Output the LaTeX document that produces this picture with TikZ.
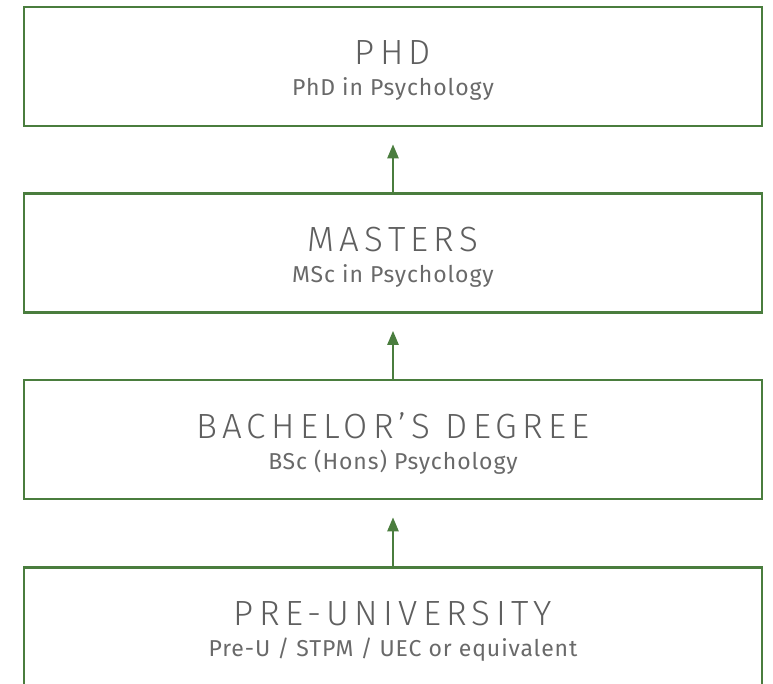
\documentclass[tikz,border=0pt]{standalone}
\usepackage{fontspec}
\setmainfont{Fira Sans}
\newfontfamily\titlefont[LetterSpace=15, UprightFont=* Light]{Fira Sans}
\newfontfamily\subfont[LetterSpace=4]{Fira Sans}
\usetikzlibrary{arrows.meta}
\definecolor{boxgreen}{RGB}{74,125,62}
\definecolor{txtgray}{RGB}{95,95,95}
\definecolor{subgray}{RGB}{105,105,105}
\tikzset{
  stagebox/.style={draw=boxgreen, line width=2.6pt, minimum width=738pt, minimum height=119pt, inner sep=0pt},
  titletext/.style={anchor=base, text=txtgray, font=\titlefont\fontsize{35}{35}\selectfont, inner sep=0pt},
  subtext/.style={anchor=base, text=subgray, font=\subfont\fontsize{23}{23}\selectfont, inner sep=0pt},
  uparrow/.style={draw=boxgreen, line width=2.4pt, -{Triangle[length=14pt,width=11pt]}, shorten >=17pt}
}
\begin{document}
\begin{tikzpicture}[x=1pt,y=-1pt]
\useasboundingbox (0,0) rectangle (773,684);
\clip (0,0) rectangle (773,684);
\node[stagebox] (phd) at (393,66.5) {};
\node[stagebox] (ms) at (393,253) {};
\node[stagebox] (bsc) at (393,439.5) {};
\node[stagebox] (pre) at (393,627) {};
\node[titletext] (phdT) at (393,65) {PHD};
\node[subtext] (phdS) at (393,96) {PhD in Psychology};
\node[titletext] (msT) at (393,252) {MASTERS};
\node[subtext] (msS) at (393,283) {MSc in Psychology};
\node[titletext] (bscT) at (393,438) {BACHELOR’S DEGREE};
\node[subtext] (bscS) at (393,469) {BSc (Hons) Psychology};
\node[titletext] (preT) at (393,625) {PRE-UNIVERSITY};
\node[subtext] (preS) at (393,656) {Pre-U / STPM / UEC or equivalent};
\draw[uparrow] (ms.north) -- (phd.south);
\draw[uparrow] (bsc.north) -- (ms.south);
\draw[uparrow] (pre.north) -- (bsc.south);
\end{tikzpicture}
\end{document}
